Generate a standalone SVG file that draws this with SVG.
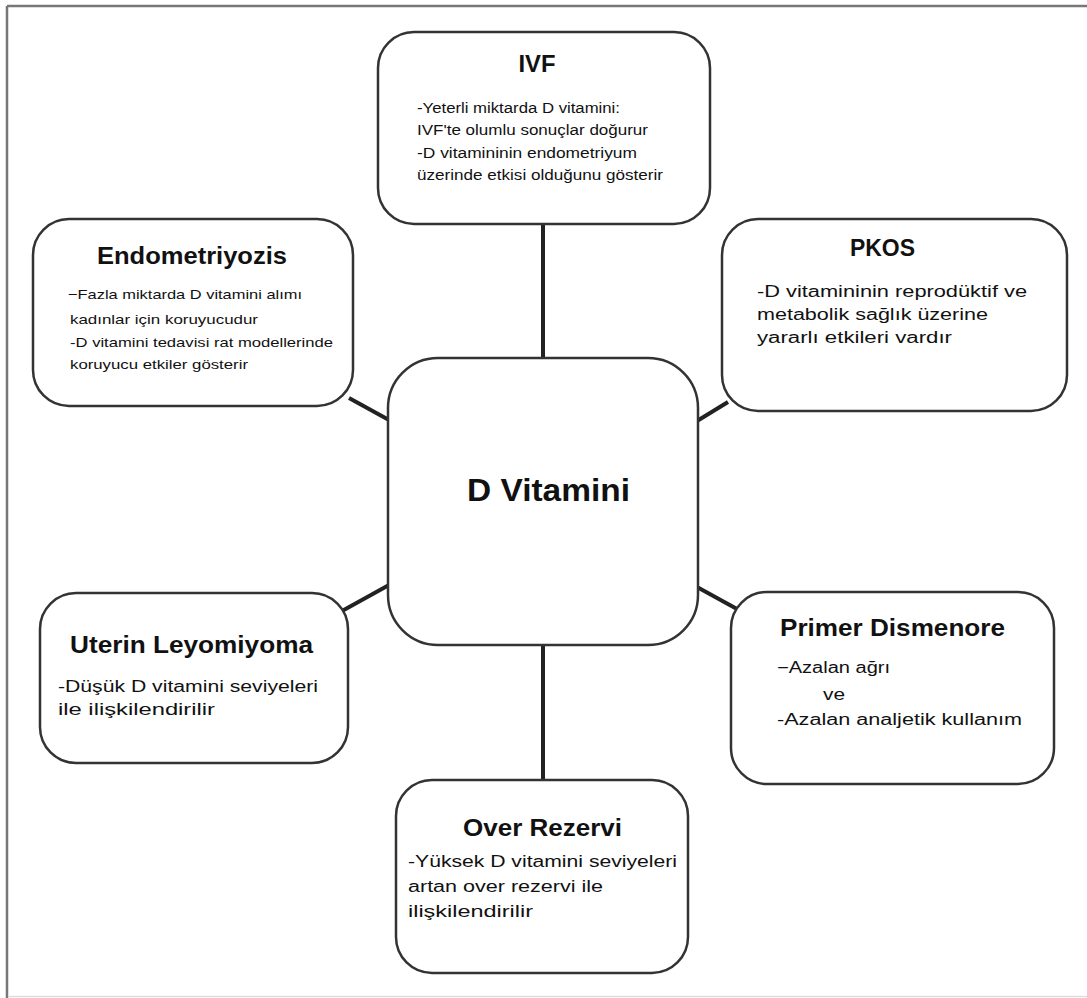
<svg xmlns="http://www.w3.org/2000/svg" width="1087" height="998" viewBox="0 0 1087 998">
<style>
.box{fill:#fff;stroke:#333;stroke-width:2.5}
.con{stroke:#222;stroke-width:4;fill:none}
.t{font-family:"Liberation Sans",Arial,sans-serif;font-weight:bold;font-size:24px;fill:#111}
.b{font-family:"Liberation Sans",Arial,sans-serif;font-size:16px;fill:#111}
.s{font-family:"Liberation Sans",Arial,sans-serif;font-size:14px;fill:#111}
.xs{font-family:"Liberation Sans",Arial,sans-serif;font-size:13px;fill:#111}
</style>
<rect x="0" y="0" width="1087" height="998" fill="#fff"/>
<g id="frame">
<line x1="7" y1="6" x2="1087" y2="6" stroke="#777" stroke-width="2.5"/>
<line x1="7" y1="6" x2="7" y2="998" stroke="#777" stroke-width="2.5"/>
<line x1="8" y1="996.5" x2="1087" y2="996.5" stroke="#ddd" stroke-width="1.5"/>
</g>
<g id="connectors">
<line class="con" x1="543" y1="224" x2="543" y2="358"/>
<line class="con" x1="543" y1="645" x2="543" y2="780"/>
<line class="con" x1="349" y1="398" x2="389" y2="420"/>
<line class="con" x1="697" y1="421" x2="728" y2="402"/>
<line class="con" x1="342" y1="611" x2="389" y2="585"/>
<line class="con" x1="697" y1="587" x2="737" y2="609"/>
</g>
<g id="ivf">
<rect class="box" x="378" y="32" width="332" height="192" rx="36"/>
<text class="t" x="537" y="72" text-anchor="middle" textLength="37" lengthAdjust="spacingAndGlyphs">IVF</text>
<text class="s" x="417" y="113" textLength="203" lengthAdjust="spacingAndGlyphs">-Yeterli miktarda D vitamini:</text>
<text class="s" x="417" y="135" textLength="231" lengthAdjust="spacingAndGlyphs">IVF'te olumlu sonuçlar doğurur</text>
<text class="s" x="417" y="158" textLength="220" lengthAdjust="spacingAndGlyphs">-D vitamininin endometriyum</text>
<text class="s" x="417" y="180" textLength="246" lengthAdjust="spacingAndGlyphs">üzerinde etkisi olduğunu gösterir</text>
</g>
<g id="endometriyozis">
<rect class="box" x="33" y="219" width="320" height="187" rx="36"/>
<text class="t" x="97" y="264" textLength="190" lengthAdjust="spacingAndGlyphs">Endometriyozis</text>
<text class="xs" x="68" y="299" textLength="234" lengthAdjust="spacingAndGlyphs">−Fazla miktarda D vitamini alımı</text>
<text class="xs" x="70" y="324" textLength="188" lengthAdjust="spacingAndGlyphs">kadınlar için koruyucudur</text>
<text class="xs" x="70" y="347" textLength="263" lengthAdjust="spacingAndGlyphs">-D vitamini tedavisi rat modellerinde</text>
<text class="xs" x="70" y="369" textLength="178" lengthAdjust="spacingAndGlyphs">koruyucu etkiler gösterir</text>
</g>
<g id="pkos">
<rect class="box" x="722" y="219" width="345" height="192" rx="36"/>
<text class="t" x="850" y="256" textLength="65" lengthAdjust="spacingAndGlyphs">PKOS</text>
<text class="b" x="757" y="297" textLength="270" lengthAdjust="spacingAndGlyphs">-D vitamininin reprodüktif ve</text>
<text class="b" x="757" y="320" textLength="231" lengthAdjust="spacingAndGlyphs">metabolik sağlık üzerine</text>
<text class="b" x="757" y="343" textLength="195" lengthAdjust="spacingAndGlyphs">yararlı etkileri vardır</text>
</g>
<g id="center">
<rect class="box" x="388" y="358" width="310" height="287" rx="50"/>
<text class="t" x="467" y="501" style="font-size:31px" textLength="163" lengthAdjust="spacingAndGlyphs">D Vitamini</text>
</g>
<g id="uterin">
<rect class="box" x="40" y="593" width="308" height="170" rx="36"/>
<text class="t" x="70" y="653" textLength="243" lengthAdjust="spacingAndGlyphs">Uterin Leyomiyoma</text>
<text class="b" x="58" y="692" textLength="260" lengthAdjust="spacingAndGlyphs">-Düşük D vitamini seviyeleri</text>
<text class="b" x="58" y="715" textLength="157" lengthAdjust="spacingAndGlyphs">ile ilişkilendirilir</text>
</g>
<g id="primer">
<rect class="box" x="731" y="592" width="323" height="192" rx="36"/>
<text class="t" x="780" y="636" textLength="225" lengthAdjust="spacingAndGlyphs">Primer Dismenore</text>
<text class="b" x="777" y="673" textLength="113" lengthAdjust="spacingAndGlyphs">−Azalan ağrı</text>
<text class="b" x="823" y="700" textLength="22" lengthAdjust="spacingAndGlyphs">ve</text>
<text class="b" x="777" y="725" textLength="245" lengthAdjust="spacingAndGlyphs">-Azalan analjetik kullanım</text>
</g>
<g id="over">
<rect class="box" x="396" y="780" width="292" height="193" rx="36"/>
<text class="t" x="463" y="836" textLength="159" lengthAdjust="spacingAndGlyphs">Over Rezervi</text>
<text class="b" x="408" y="867" textLength="269" lengthAdjust="spacingAndGlyphs">-Yüksek D vitamini seviyeleri</text>
<text class="b" x="408" y="892" textLength="195" lengthAdjust="spacingAndGlyphs">artan over rezervi ile</text>
<text class="b" x="408" y="917" textLength="125" lengthAdjust="spacingAndGlyphs">ilişkilendirilir</text>
</g>
</svg>
